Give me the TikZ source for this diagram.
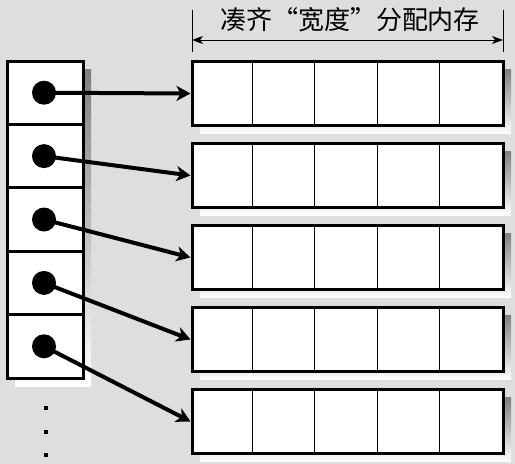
\documentclass[tikz,border=0pt]{standalone}
\usepackage{fontspec}
\newfontfamily\cjk{Noto Sans CJK SC}
\usetikzlibrary{arrows.meta,calc}
\definecolor{bg}{RGB}{222,222,222}
\definecolor{shade}{RGB}{244,244,244}
\tikzset{
  cell/.style={draw, line width=3pt, fill=white, minimum width=76pt, minimum height=63.4pt, inner sep=0pt},
  arr/.style={draw, line width=3pt, fill=white, minimum width=311pt, minimum height=64pt, inner sep=0pt},
  dotnode/.style={circle, fill=black, minimum size=24pt, inner sep=0pt},
  ptr/.style={line width=4pt, -{Stealth[length=14pt,width=15pt,inset=4pt]}},
  divider/.style={line width=1pt},
  dim/.style={line width=1pt, {Stealth[length=11pt,width=8pt,inset=3pt]}-{Stealth[length=11pt,width=8pt,inset=3pt]}},
  sq/.style={fill=black, minimum size=4pt, inner sep=0pt},
}
\begin{document}
\begin{tikzpicture}[x=1pt,y=-1pt]
\fill[bg] (0,0) rectangle (515,464);
\useasboundingbox (0,0) rectangle (515,464);
% shadows
\fill[shade] (15,69) rectangle (91,386);
\foreach \i in {0,...,4} {
  \fill[shade] (200,69.5+82*\i) rectangle (511,133.5+82*\i);
}
% left column
\foreach \i in {1,...,5} {
  \node[cell] (c\i) at (45,{61+31.7+63.4*(\i-1)}) {};
}
% arrays
\foreach \i in {1,...,5} {
  \node[arr] (a\i) at (347.5,{93.5+82*(\i-1)}) {};
  \foreach \k in {1,...,4} {
    \draw[divider] ($(a\i.north west)+(62.2*\k,0)$) -- ($(a\i.south west)+(62.2*\k,0)$);
  }
}
% dots and pointers
\foreach \i in {1,...,5} {
  \node[dotnode] (d\i) at ($(c\i.center)+(-1,0)$) {};
  \draw[ptr] (d\i.center) -- (a\i.west);
}
% dimension
\coordinate (t1a) at (192,10);
\coordinate (t1b) at (192,52);
\coordinate (t2a) at (503,10);
\coordinate (t2b) at (503,52);
\draw[line width=1pt] (t1a) -- (t1b);
\draw[line width=1pt] (t2a) -- (t2b);
\coordinate (l1) at (192,40);
\coordinate (l2) at (503,40);
\draw[dim] (l1) -- (l2);
\node[font=\cjk\fontsize{26}{26}\selectfont, inner sep=0pt] (title) at (350,20) {凑齐“宽度”分配内存};
% continuation dots
\node[sq] (s1) at (46,408) {};
\node[sq] (s2) at (46,432) {};
\node[sq] (s3) at (46,455) {};
\end{tikzpicture}
\end{document}
